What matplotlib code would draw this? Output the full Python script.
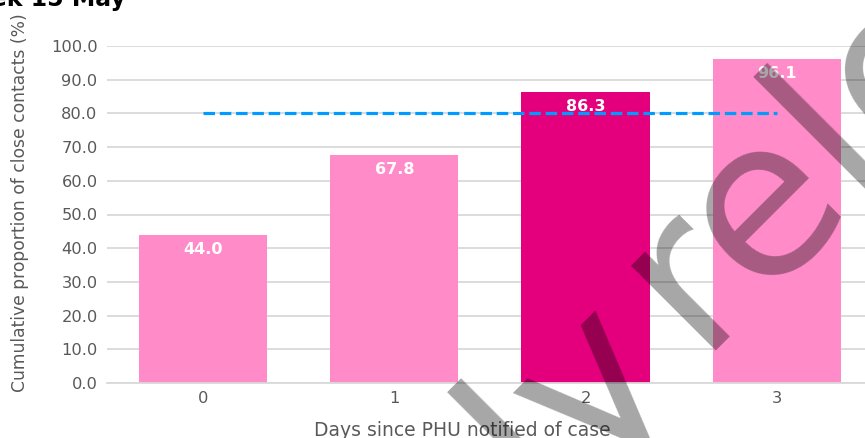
import matplotlib
matplotlib.use("Agg")
import matplotlib.pyplot as plt

days = ["0", "1", "2", "3"]
values = [44.0, 67.8, 86.3, 96.1]
bar_colors = ["#FF8CC8", "#FF8CC8", "#E4007C", "#FF8CC8"]
target = 80.0
yticks = [0, 10, 20, 30, 40, 50, 60, 70, 80, 90, 100]

W, H = 865, 438
fig = plt.figure(figsize=(W / 100, H / 100), dpi=100)
plt.rcParams['font.family'] = ['DejaVu Sans']

ax = fig.add_axes([107.3 / W, (H - 383) / H, 765.2 / W, 337 / H])
x = list(range(len(days)))
ax.bar(x, values, width=0.67, color=bar_colors, zorder=2)
ax.set_xlim(-0.5, 3.5)
ax.set_ylim(0, 100)
ax.set_yticks(yticks)
ax.set_yticklabels([f"{v:.1f}" for v in yticks])
ax.set_xticks(x)
ax.set_xticklabels(days)
ax.grid(axis='y', color='#d9d9d9', linewidth=1.3, zorder=0)
ax.set_axisbelow(True)
for s in ['left', 'right', 'top']:
    ax.spines[s].set_visible(False)
ax.spines['bottom'].set_color('#d9d9d9')
ax.spines['bottom'].set_linewidth(1.3)
ax.tick_params(axis='both', length=0, colors='#595959', labelsize=11.7)
ax.tick_params(axis='y', pad=7)
ax.tick_params(axis='x', pad=6)

ax.plot([x[0], x[-1]], [target, target], color='#009BFF', linewidth=2.3,
        dashes=(3.6, 1.5), zorder=3, solid_capstyle='butt', dash_capstyle='butt')

for xi, v in zip(x, values):
    ax.annotate(f"{v:.1f}", (xi, v), xytext=(0, -10.5), textcoords='offset points',
                ha='center', va='center', color='white', fontweight='bold',
                fontsize=11.5, zorder=4)

fig.text(462 / W, 1 - 430 / H, "Days since PHU notified of case",
         ha='center', va='center', fontsize=13.5, color='#595959')
fig.text(20 / W, 1 - 203 / H, "Cumulative proportion of close contacts (%)",
         rotation=90, ha='center', va='center', fontsize=12.3, color='#595959')

fig.text(126 / W, 1 - 6 / H, "Close contacts notified, week 15 May", ha='right',
         va='baseline', fontsize=17, fontweight='bold', color='black')

fig.text(545 / W, 1 - 510 / H, "ly", rotation=45, rotation_mode='anchor',
         ha='left', va='baseline', fontsize=158, color='black', alpha=0.35, zorder=10)
fig.text(696 / W, 1 - 351 / H, "released", rotation=45, rotation_mode='anchor',
         ha='left', va='baseline', fontsize=158, color='black', alpha=0.35, zorder=10)

fig.savefig("out.png", dpi=100)
